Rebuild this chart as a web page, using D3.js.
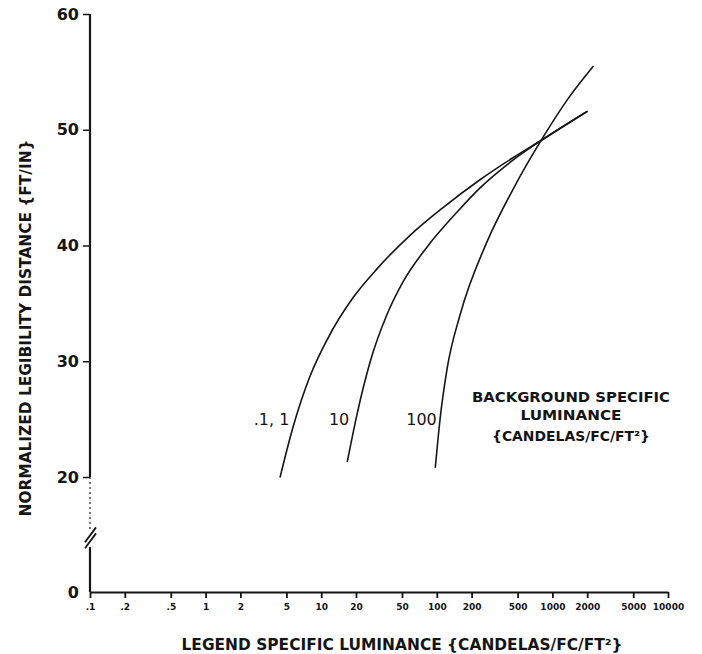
<!DOCTYPE html>
<html>
<head>
<meta charset="utf-8">
<script src="https://cdn.jsdelivr.net/npm/d3@7"></script>
<style>
  html, body { margin: 0; padding: 0; background: #fff; }
  svg { display: block; }
  text { font-family: "DejaVu Sans", "Liberation Sans", sans-serif; fill: #151515; }
</style>
</head>
<body>
<svg id="chart" width="702" height="654"></svg>
<script>
// ---- data ----
const xTickValues = [0.1, 0.2, 0.5, 1, 2, 5, 10, 20, 50, 100, 200, 500, 1000, 2000, 5000, 10000];
const xTickLabels = [".1", ".2", ".5", "1", "2", "5", "10", "20", "50", "100", "200", "500", "1000", "2000", "5000", "10000"];
const yTickValues = [0, 20, 30, 40, 50, 60];
const yTickLabels = ["0", "20", "30", "40", "50", "60"];

const seriesNames = [".1, 1", "10", "100"];
// background .1 / 1
const lumA = [4.4, 5.7, 8.0, 11.3, 18.9, 30.5, 59, 114, 238, 459, 836, 2010];
const distA = [19.9, 24.3, 28.7, 31.9, 35.5, 38.0, 40.9, 43.3, 45.7, 47.6, 49.2, 51.6];
// background 10
const lumB = [16.8, 20.5, 26.6, 37.3, 51.3, 82.8, 150, 238, 459, 836, 2010];
const distB = [21.3, 25.5, 30.0, 34.1, 36.9, 39.9, 42.9, 45.0, 47.4, 49.2, 51.6];
// background 100
const lumC = [97, 107, 123, 160, 274, 459, 836, 1349, 2265];
const distC = [20.8, 25.1, 29.4, 34.1, 40.4, 44.9, 49.4, 52.6, 55.5];
// label anchors (end of text) in data units
const labelLum = [5.3, 17.5, 100];
const labelDist = [25.0, 25.0, 25.0];

const xTitle = "LEGEND SPECIFIC LUMINANCE {CANDELAS/FC/FT²}";
const yTitle = "NORMALIZED LEGIBILITY DISTANCE {FT/IN}";
const legendLines = ["BACKGROUND SPECIFIC", "LUMINANCE", "{CANDELAS/FC/FT²}"];

// ---- scales ----
const svg = d3.select("#chart");
const x = d3.scaleLog().domain([0.1, 10000]).range([90, 668]);
const y = d3.scaleLinear().domain([0, 20, 60]).range([592, 477, 14]);

// ---- axes ----
const xAxis = d3.axisBottom(x)
  .tickValues(xTickValues)
  .tickFormat((d, i) => xTickLabels[i])
  .tickSize(6).tickSizeOuter(0).tickPadding(6);
const gx = svg.append("g").attr("transform", `translate(0,${y(0)})`).call(xAxis);
gx.select(".domain").attr("stroke", "#151515").attr("stroke-width", 2.2);
gx.selectAll(".tick line").attr("stroke", "#151515").attr("stroke-width", 1.8);
gx.selectAll(".tick text").style("font-size", "9px").style("font-weight", "bold")
  .attr("fill", "#151515");

const yAxis = d3.axisLeft(y)
  .tickValues(yTickValues)
  .tickFormat((d, i) => yTickLabels[i])
  .tickSize(7).tickSizeOuter(0).tickPadding(4);
const gy = svg.append("g").attr("transform", `translate(${x(0.1)},0)`).call(yAxis);
gy.select(".domain").remove();
gy.selectAll(".tick line").attr("stroke", "#151515").attr("stroke-width", 1.5);
gy.selectAll(".tick text").style("font-size", "16px").style("font-weight", "bold")
  .attr("fill", "#151515");
gy.selectAll(".tick").filter(d => d === 0).select("line").remove();

// y axis line with break
const ax = x(0.1);
svg.append("line").attr("x1", ax).attr("x2", ax).attr("y1", y(60)).attr("y2", y(20))
  .attr("stroke", "#151515").attr("stroke-width", 2.2);
svg.append("line").attr("x1", ax).attr("x2", ax).attr("y1", y(20)).attr("y2", y(10.5))
  .attr("stroke", "#333").attr("stroke-width", 1.3).attr("stroke-dasharray", "2,3");
svg.append("line").attr("x1", ax).attr("x2", ax).attr("y1", y(7.8)).attr("y2", y(0))
  .attr("stroke", "#151515").attr("stroke-width", 2.2);
[0, 6].forEach(off => {
  svg.append("line")
    .attr("x1", ax - 5).attr("y1", y(7.6) - off)
    .attr("x2", ax + 6).attr("y2", y(10.2) - off)
    .attr("stroke", "#151515").attr("stroke-width", 1.8);
});

// ---- curves ----
const line = d3.line()
  .x(d => x(d[0]))
  .y(d => y(d[1]))
  .curve(d3.curveMonotoneX);
const seriesData = [
  d3.zip(lumA, distA),
  d3.zip(lumB, distB),
  d3.zip(lumC, distC)
];
svg.append("g").selectAll("path").data(seriesData).join("path")
  .attr("d", line)
  .attr("fill", "none")
  .attr("stroke", "#151515")
  .attr("stroke-width", 1.6);

// curve labels
svg.append("g").selectAll("text").data(seriesNames).join("text")
  .attr("x", (d, i) => x(labelLum[i]))
  .attr("y", (d, i) => y(labelDist[i]))
  .attr("text-anchor", "end")
  .attr("dy", "0.35em")
  .style("font-size", "16px")
  .text(d => d);

// legend
const lg = svg.append("g");
const legendY = [402, 420, 441];
lg.selectAll("text").data(legendLines).join("text")
  .attr("x", 571)
  .attr("y", (d, i) => legendY[i])
  .attr("text-anchor", "middle")
  .style("font-size", "14px")
  .style("font-weight", "bold")
  .attr("textLength", (d, i) => [198, 101, 158][i])
  .attr("lengthAdjust", "spacingAndGlyphs")
  .text(d => d);

// axis titles
svg.append("text")
  .attr("x", 402).attr("y", 650)
  .attr("text-anchor", "middle")
  .style("font-size", "15px")
  .style("font-weight", "bold")
  .attr("textLength", 441)
  .attr("lengthAdjust", "spacingAndGlyphs")
  .text(xTitle);

svg.append("text")
  .attr("transform", "translate(31,328) rotate(-90)")
  .attr("text-anchor", "middle")
  .style("font-size", "15px")
  .style("font-weight", "bold")
  .attr("textLength", 377)
  .attr("lengthAdjust", "spacingAndGlyphs")
  .text(yTitle);
</script>
</body>
</html>
